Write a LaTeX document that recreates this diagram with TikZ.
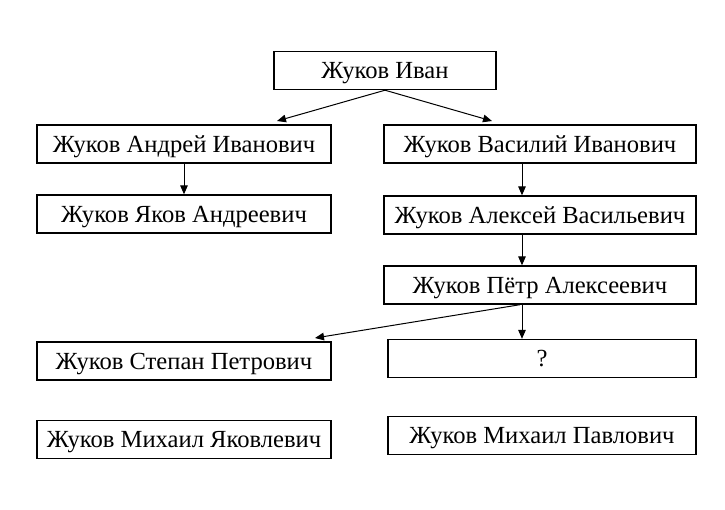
\documentclass[tikz,border=0pt]{standalone}
\usepackage{fontspec}
\setmainfont{Liberation Serif}
\usetikzlibrary{arrows.meta}

\tikzset{
  person/.style={draw, line width=0.7pt, inner sep=0pt, minimum height=19pt,
    text height=8.6pt, text depth=0.6pt, font=\fontsize{12.3}{14}\selectfont},
  leftcol/.style={person, minimum width=147pt},
  rightcol/.style={person, minimum width=156pt},
}

\begin{document}
\begin{tikzpicture}[x=0.5pt,y=-0.5pt,line width=0.5pt,
    >={Triangle[length=4.5pt,width=3.8pt]}]
\useasboundingbox (0,0) rectangle (725,510);
\node[person, minimum width=111pt] (ivan) at (385,70.5) {Жуков Иван};
\node[leftcol] (andrei) at (184,144) {Жуков Андрей Иванович};
\node[rightcol] (vasily) at (540,144) {Жуков Василий Иванович};
\node[leftcol] (yakov) at (184,214) {Жуков Яков Андреевич};
\node[rightcol] (aleksei) at (540,215) {Жуков Алексей Васильевич};
\node[rightcol] (petr) at (540,285) {Жуков Пётр Алексеевич};
\node[leftcol] (stepan) at (184,361) {Жуков Степан Петрович};
\node[person, minimum width=154pt] (unknown) at (542,358.5) {?};
\node[leftcol] (mikhY) at (184,439.5) {Жуков Михаил Яковлевич};
\node[person, minimum width=154pt] (mikhP) at (542,435.5) {Жуков Михаил Павлович};
% arrow tips
\coordinate (tipA) at (277,121);
\coordinate (tipV) at (492,121);
\coordinate (tipS) at (315,338);
\draw[->] (ivan.south) -- (tipA);
\draw[->] (ivan.south) -- (tipV);
\draw[->] (andrei.south) -- (yakov.north);
\draw[->] ([xshift=-9pt]vasily.south) -- ([xshift=-9pt]aleksei.north);
\draw[->] ([xshift=-9pt]aleksei.south) -- ([xshift=-9pt]petr.north);
\draw[->] ([xshift=-10pt]petr.south) -- (tipS);
\draw[->] ([xshift=-9pt]petr.south) coordinate (pd) -- (pd |- unknown.north);
\end{tikzpicture}
\end{document}
